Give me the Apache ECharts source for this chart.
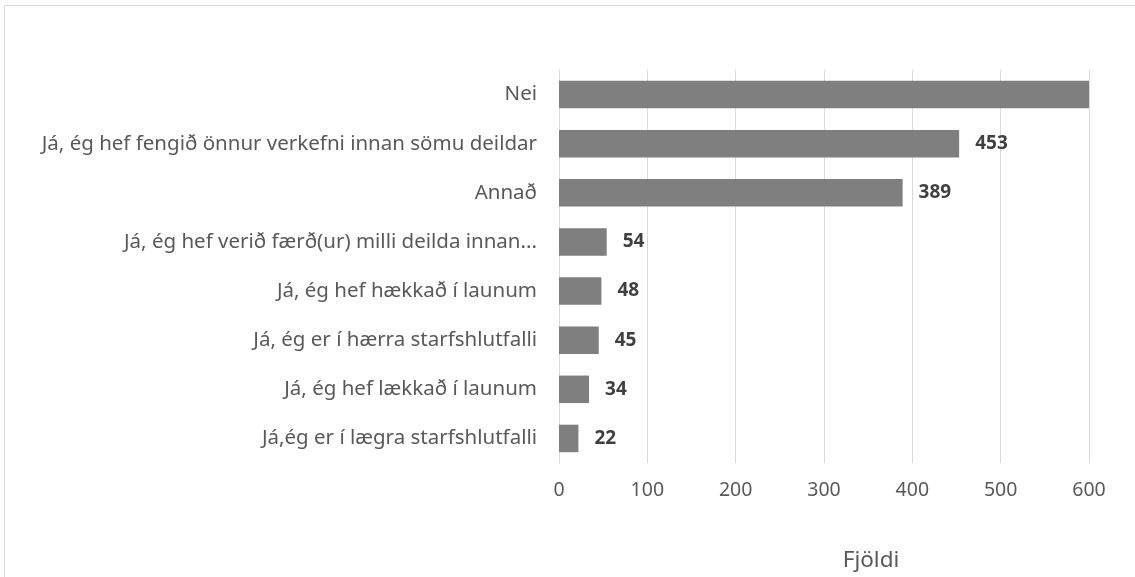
<!DOCTYPE html>
<html>
<head>
<meta charset="utf-8">
<script src="https://cdn.jsdelivr.net/npm/echarts@6/dist/echarts.min.js"></script>
<style>html,body{margin:0;padding:0;background:#fff}#c{width:1135px;height:577px}</style>
</head>
<body>
<div id="c"></div>
<script>
const categories = [
  "Nei",
  "Já, ég hef fengið önnur verkefni innan sömu deildar",
  "Annað",
  "Já, ég hef verið færð(ur) milli deilda innan...",
  "Já, ég hef hækkað í launum",
  "Já, ég er í hærra starfshlutfalli",
  "Já, ég hef lækkað í launum",
  "Já,ég er í lægra starfshlutfalli"
];
const values = [600, 453, 389, 54, 48, 45, 34, 22];
const hiddenLabels = ["Nei"];
const xTicks = [0, 100, 200, 300, 400, 500, 600];
const axisName = "Fjöldi";

const chart = echarts.init(document.getElementById('c'), null, {renderer: 'canvas'});
const font = "'Noto Sans', sans-serif";
chart.setOption({
  animation: false,
  backgroundColor: '#fff',
  graphic: [{
    type: 'rect', shape: {x: 4.5, y: 5.5, width: 1200, height: 700},
    style: {fill: 'none', stroke: '#d9d9d9', lineWidth: 1}, silent: true
  }],
  grid: {left: 559, right: 46, top: 70, bottom: 110, containLabel: false},
  xAxis: {
    type: 'value', min: xTicks[0], max: xTicks[xTicks.length - 1], interval: 100,
    name: axisName, nameLocation: 'middle', nameGap: 86,
    nameTextStyle: {color: '#595959', fontSize: 22.5, fontFamily: font, padding: [0, 0, 0, 94]},
    axisLine: {show: false}, axisTick: {show: false},
    axisLabel: {color: '#595959', fontSize: 19.5, fontFamily: font, margin: 17},
    splitLine: {lineStyle: {color: '#d9d9d9', width: 1}}
  },
  yAxis: {
    type: 'category', data: categories, inverse: true,
    axisLine: {show: true, lineStyle: {color: '#d9d9d9'}}, axisTick: {show: false},
    axisLabel: {color: '#595959', fontSize: 20.5, fontFamily: font, margin: 22}
  },
  series: [{
    type: 'bar', barWidth: '56%',
    itemStyle: {color: '#7f7f7f'},
    data: values.map((v, i) => ({
      value: v,
      label: {show: hiddenLabels.indexOf(categories[i]) < 0}
    })),
    label: {
      position: 'right', distance: 16, color: '#404040',
      fontSize: 19, fontWeight: 'bold', fontFamily: font
    }
  }]
});
</script>
</body>
</html>
